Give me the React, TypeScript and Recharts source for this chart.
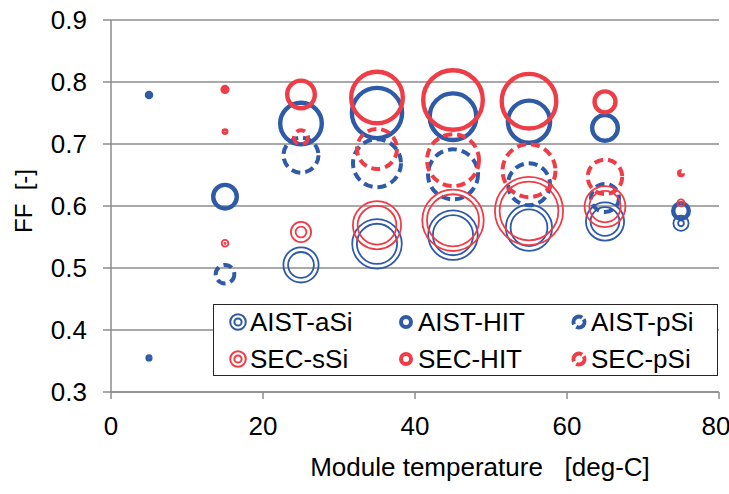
import { ScatterChart, Scatter, XAxis, YAxis, ZAxis, CartesianGrid, Legend } from "recharts";

const temps = [5, 15, 25, 35, 45, 55, 65, 75];

// FF values per series (null = no bubble at that temperature)
const aistASi = [null, null, 0.505, 0.539, 0.553, 0.565, 0.575, 0.572];
const aistHIT = [0.779, 0.615, 0.733, 0.75, 0.744, 0.736, 0.726, 0.592];
const aistPSi = [0.355, 0.49, 0.682, 0.669, 0.651, 0.635, 0.613, null];
const secSSi = [null, 0.54, 0.558, 0.569, 0.577, 0.592, 0.599, 0.605];
const secHIT = [null, 0.788, 0.78, 0.775, 0.771, 0.769, 0.768, null];
const secPSi = [null, 0.72, 0.711, 0.692, 0.674, 0.657, 0.647, 0.653];

// bubble sizes (area-proportional)
const aistASiSize = [0, 0, 342, 660, 660, 576, 400, 72];
const aistHITSize = [18, 196, 529, 745, 650, 543, 225, 100];
const aistPSiSize = [13, 128, 380, 676, 730, 529, 256, 0];
const secSSiSize = [0, 18, 121, 625, 1000, 1225, 454, 20];
const secHITSize = [0, 21, 256, 784, 1024, 870, 161, 0];
const secPSiSize = [0, 12, 81, 484, 784, 812, 372, 16];

const xTicks = [0, 20, 40, 60, 80];
const yTicks = [0.3, 0.4, 0.5, 0.6, 0.7, 0.8, 0.9];

const BLUE = "#2f5aa8";
const RED = "#ee3d47";
const GRID = "#8c8c8c";
const FONT = "'Liberation Sans', Arial, sans-serif";

type Kind = "double" | "solid" | "dashed";

const build = (ys: (number | null)[], sizes: number[]) =>
  temps
    .map((t, i) => ({ x: t, y: ys[i], z: sizes[i] }))
    .filter((d) => d.y !== null && d.z > 0);

const series: { name: string; kind: Kind; color: string; data: { x: number; y: number | null; z: number }[] }[] = [
  { name: "AIST-aSi", kind: "double", color: BLUE, data: build(aistASi, aistASiSize) },
  { name: "AIST-HIT", kind: "solid", color: BLUE, data: build(aistHIT, aistHITSize) },
  { name: "AIST-pSi", kind: "dashed", color: BLUE, data: build(aistPSi, aistPSiSize) },
  { name: "SEC-sSi", kind: "double", color: RED, data: build(secSSi, secSSiSize) },
  { name: "SEC-HIT", kind: "solid", color: RED, data: build(secHIT, secHITSize) },
  { name: "SEC-pSi", kind: "dashed", color: RED, data: build(secPSi, secPSiSize) },
];

function Ring({ cx, cy, R, kind, color }: { cx: number; cy: number; R: number; kind: Kind; color: string }) {
  if (kind === "double") {
    return (
      <g>
        <circle cx={cx} cy={cy} r={Math.max(R - 0.9, 0.5)} fill="none" stroke={color} strokeWidth={1.8} />
        <circle cx={cx} cy={cy} r={Math.max(R - 5.6, 0.6)} fill="none" stroke={color} strokeWidth={1.8} />
      </g>
    );
  }
  if (kind === "solid") {
    return <circle cx={cx} cy={cy} r={Math.max(R - 2.2, 0.4)} fill="none" stroke={color} strokeWidth={4.4} />;
  }
  return (
    <circle
      cx={cx}
      cy={cy}
      r={Math.max(R - 2, 0.4)}
      fill="none"
      stroke={color}
      strokeWidth={4}
      strokeDasharray="9 5"
    />
  );
}

const makeShape = (kind: Kind, color: string) => (props: any) => {
  const { cx, cy, width } = props;
  if (cx == null || cy == null) return <g />;
  return <Ring cx={cx} cy={cy} R={width / 2} kind={kind} color={color} />;
};

function LegendIcon({ kind, color }: { kind: Kind; color: string }) {
  let body;
  if (kind === "double") {
    body = (
      <g>
        <circle cx={10} cy={10} r={7.8} fill="none" stroke={color} strokeWidth={2} />
        <circle cx={10} cy={10} r={3.6} fill="none" stroke={color} strokeWidth={2} />
      </g>
    );
  } else if (kind === "solid") {
    body = <circle cx={10} cy={10} r={5} fill="none" stroke={color} strokeWidth={4} />;
  } else {
    body = (
      <circle
        cx={10}
        cy={10}
        r={5.5}
        fill="none"
        stroke={color}
        strokeWidth={4}
        strokeDasharray="14 3.3"
        transform="rotate(-30 10 10)"
      />
    );
  }
  return (
    <svg width={20} height={20} style={{ display: "block" }}>
      {body}
    </svg>
  );
}

function LegendBox() {
  const cols = [0, 1, 2];
  const colLeft = [14, 182, 355];
  return (
    <div
      style={{
        width: 503,
        height: 70,
        border: "1.5px solid #262626",
        background: "#fff",
        position: "relative",
        fontFamily: FONT,
        fontSize: 26,
        color: "#000",
      }}
    >
      {[0, 1].map((row) =>
        cols.map((c) => {
          const s = series[row * 3 + c];
          return (
            <div
              key={s.name}
              style={{
                position: "absolute",
                left: colLeft[c],
                top: 2 + row * 37,
                height: 30,
                display: "flex",
                alignItems: "center",
                whiteSpace: "nowrap",
              }}
            >
              <LegendIcon kind={s.kind} color={s.color} />
              <span style={{ marginLeft: 2, lineHeight: "30px" }}>{s.name}</span>
            </div>
          );
        })
      )}
    </div>
  );
}

export default function App() {
  return (
    <div style={{ position: "absolute", left: 0, top: 0, width: 729, height: 494, background: "#fff" }}>
      <ScatterChart width={729} height={494} margin={{ top: 20, right: 10, bottom: 62, left: 51 }}>
        <CartesianGrid vertical={false} stroke={GRID} strokeWidth={1.5} />
        <XAxis
          type="number"
          dataKey="x"
          domain={[0, 80]}
          ticks={xTicks}
          height={40}
          axisLine={{ stroke: GRID, strokeWidth: 1.5 }}
          tickLine={{ stroke: GRID, strokeWidth: 1.5 }}
          tickSize={7}
          tickMargin={18}
          tick={{ fontSize: 26, fill: "#000", fontFamily: FONT }}
          label={() => (
            <text x={480} y={476} textAnchor="middle" fontSize={26} fontFamily={FONT} fill="#000">
              {"Module temperature\u00A0\u00A0\u00A0[deg-C]"}
            </text>
          )}
        />
        <YAxis
          type="number"
          dataKey="y"
          domain={[0.3, 0.9]}
          ticks={yTicks}
          width={60}
          axisLine={{ stroke: GRID, strokeWidth: 1.5 }}
          tickLine={{ stroke: GRID, strokeWidth: 1.5 }}
          tickSize={8}
          tickMargin={16}
          tickFormatter={(v: number) => v.toFixed(1)}
          tick={{ fontSize: 26, fill: "#000", fontFamily: FONT }}
          label={() => (
            <text
              transform="translate(32 201) rotate(-90)"
              textAnchor="middle"
              fontSize={24}
              fontFamily={FONT}
              fill="#000"
            >
              {"FF\u00A0\u00A0[-]"}
            </text>
          )}
        />
        <ZAxis type="number" dataKey="z" domain={[0, 1600]} range={[0, 1600 * Math.PI]} />
        {series.map((s) => (
          <Scatter
            key={s.name}
            name={s.name}
            data={s.data}
            shape={makeShape(s.kind, s.color)}
            isAnimationActive={false}
          />
        ))}
        <Legend
          layout="horizontal"
          verticalAlign="middle"
          align="center"
          wrapperStyle={{ left: 213, top: 304, width: 506, height: 73 }}
          content={() => <LegendBox />}
        />
      </ScatterChart>
    </div>
  );
}
